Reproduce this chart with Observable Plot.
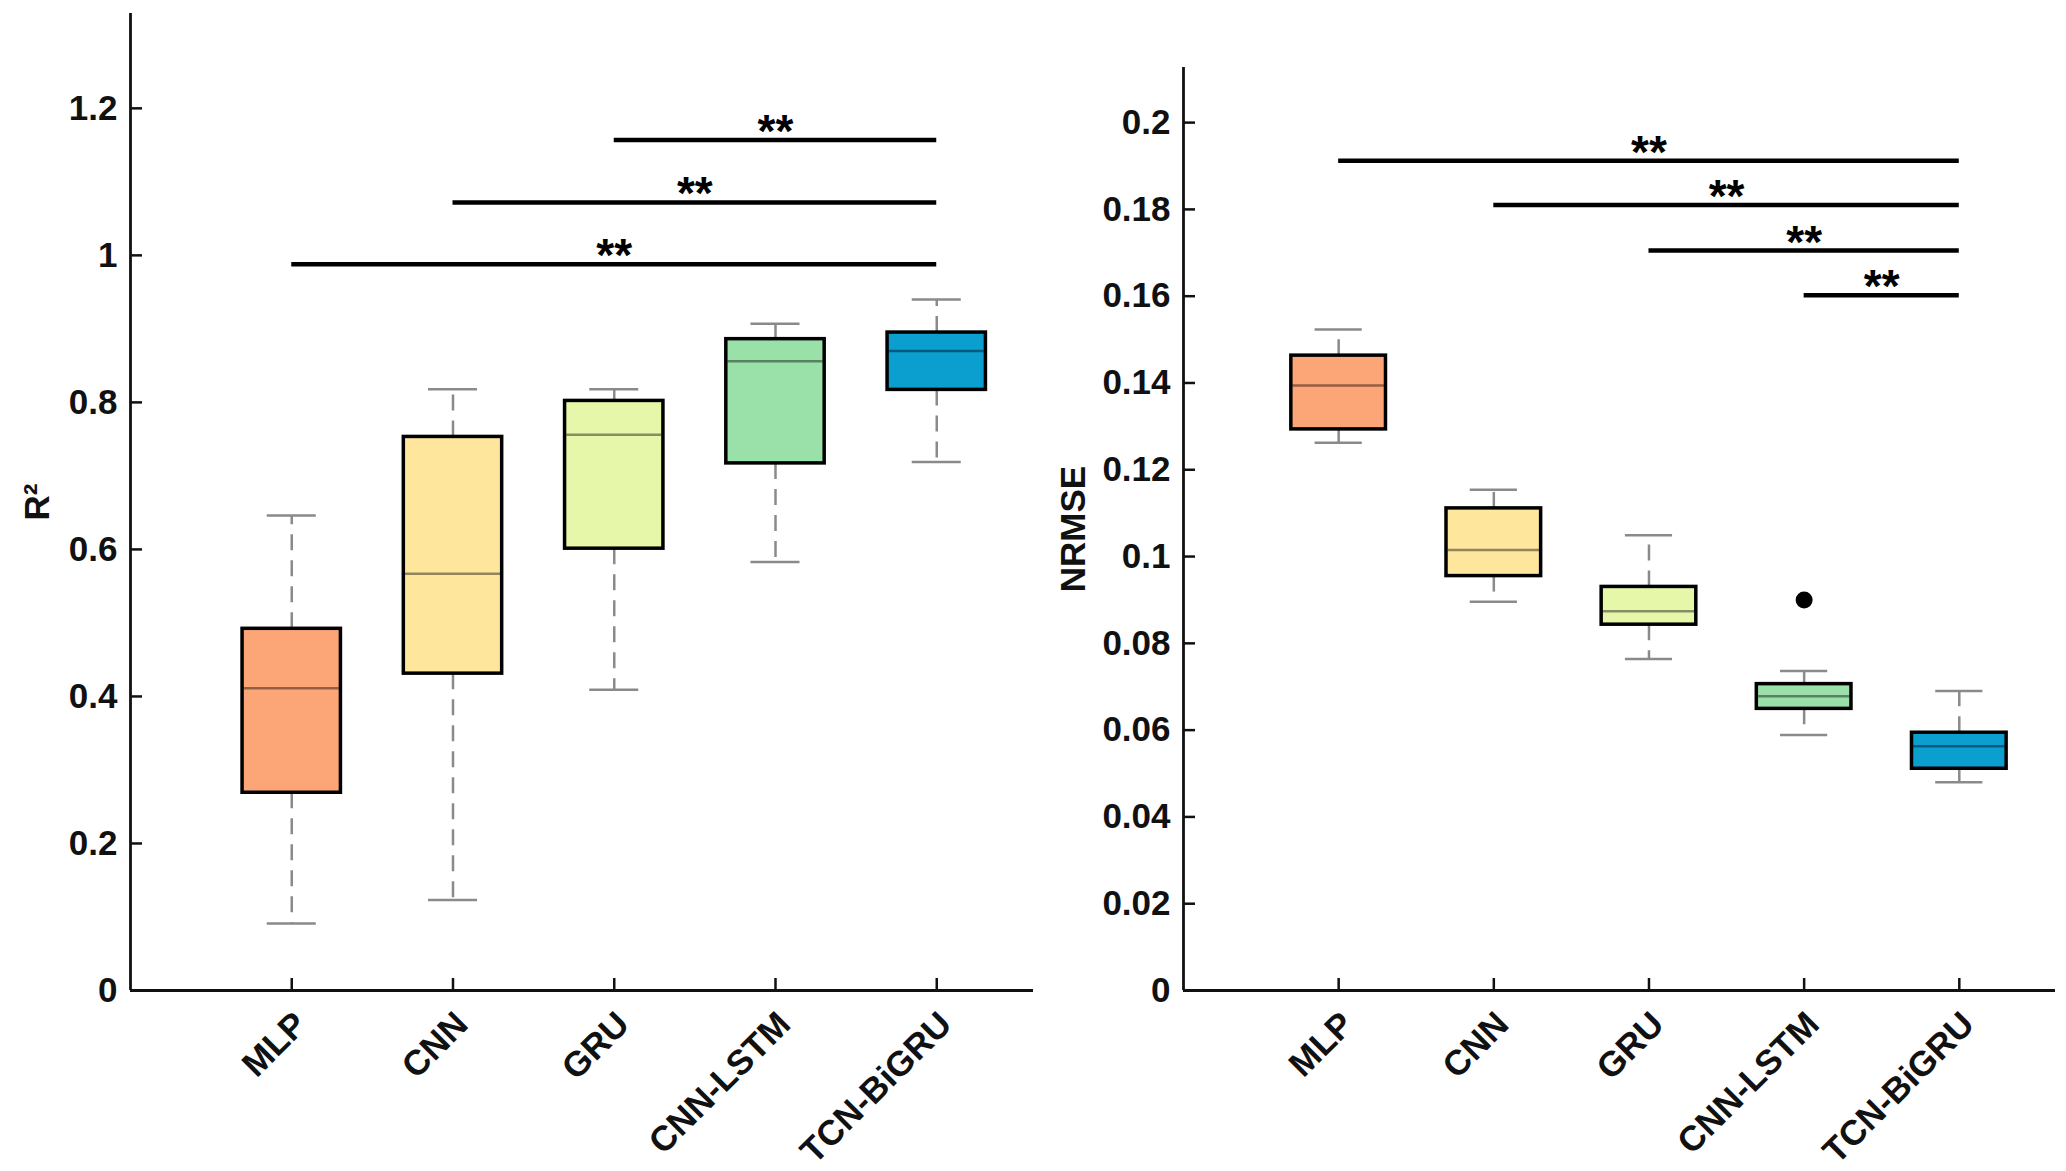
<!DOCTYPE html>
<html><head><meta charset="utf-8">
<script src="https://cdn.jsdelivr.net/npm/d3@7"></script>
<script src="https://cdn.jsdelivr.net/npm/@observablehq/plot@0.6"></script>
<style>
html,body{margin:0;padding:0;background:#fff;}
#wrap{position:relative;width:2066px;height:1171px;overflow:hidden;background:#fff;}
#left{position:absolute;left:0;top:0;}
#right{position:absolute;left:1040px;top:0;}
</style></head>
<body><div id="wrap"><div id="left"></div><div id="right"></div></div>
<script>
// ---- data ----
const categories = ["MLP", "CNN", "GRU", "CNN-LSTM", "TCN-BiGRU"];
const positions = [1, 2, 3, 4, 5];
const boxColors = ["#FCA577", "#FEE69D", "#E6F7A9", "#99E0A9", "#0B9FCF"];

// R² panel
const r2Lower  = [0.091, 0.123, 0.409, 0.583, 0.719];
const r2Q1     = [0.269, 0.431, 0.601, 0.717, 0.817];
const r2Median = [0.411, 0.567, 0.756, 0.856, 0.870];
const r2Q3     = [0.492, 0.753, 0.802, 0.886, 0.895];
const r2Upper  = [0.646, 0.818, 0.818, 0.907, 0.940];
const r2Ticks  = [0, 0.2, 0.4, 0.6, 0.8, 1, 1.2];
const r2SigFrom = [3, 2, 1];
const r2SigTo   = [5, 5, 5];
const r2SigY    = [1.157, 1.072, 0.988];
const r2SigText = ["**", "**", "**"];

// NRMSE panel
const nrLower  = [0.1262, 0.0896, 0.0764, 0.0589, 0.0480];
const nrQ1     = [0.1293, 0.0955, 0.0843, 0.0649, 0.0511];
const nrMedian = [0.1394, 0.1015, 0.0874, 0.0678, 0.0563];
const nrQ3     = [0.1463, 0.1111, 0.0930, 0.0706, 0.0594];
const nrUpper  = [0.1523, 0.1154, 0.1049, 0.0736, 0.0690];
const nrOutlierCat = ["CNN-LSTM"];
const nrOutlierVal = [0.090];
const nrTicks  = [0, 0.02, 0.04, 0.06, 0.08, 0.1, 0.12, 0.14, 0.16, 0.18, 0.2];
const nrSigFrom = [1, 2, 3, 4];
const nrSigTo   = [5, 5, 5, 5];
const nrSigY    = [0.1912, 0.1810, 0.1705, 0.1602];
const nrSigText = ["**", "**", "**", "**"];

// ---- drawing ----
const FONT = "'Liberation Sans', Arial, Helvetica, sans-serif";
const H = 1171;
const FS = 35;

function panel(cfg) {
  const rows = categories.map((name, i) => ({
    name, pos: positions[i],
    lower: cfg.lower[i], q1: cfg.q1[i], median: cfg.median[i], q3: cfg.q3[i], upper: cfg.upper[i]
  }));
  const outliers = cfg.outCat.map((c, i) => ({pos: positions[categories.indexOf(c)], value: cfg.outVal[i]}));
  const sig = cfg.sigFrom.map((f, i) => ({from: f, to: cfg.sigTo[i], y: cfg.sigY[i], label: cfg.sigText[i]}));
  const innerW = cfg.width - cfg.marginLeft - cfg.marginRight;
  const innerH = H - cfg.marginTop - cfg.marginBottom;
  const bh = 0.305, ch = 0.152;
  const whisk = {stroke: "#8a8a8a", strokeWidth: 2.5};
  return Plot.plot({
    width: cfg.width, height: H,
    marginLeft: cfg.marginLeft, marginRight: cfg.marginRight,
    marginTop: cfg.marginTop, marginBottom: cfg.marginBottom,
    x: {domain: [0, cfg.xMax]},
    y: {domain: cfg.yDomain},
    color: {domain: categories, range: boxColors},
    style: {fontFamily: FONT, fontWeight: "bold", color: "#111", background: "#fff", overflow: "visible"},
    marks: [
      // whiskers
      Plot.ruleX(rows, {x: "pos", y1: "q3", y2: "upper", ...whisk, strokeDasharray: "16,10"}),
      Plot.ruleX(rows, {x: "pos", y1: "q1", y2: "lower", ...whisk, strokeDasharray: "16,10"}),
      Plot.ruleY(rows, {y: "upper", x1: d => d.pos - ch, x2: d => d.pos + ch, ...whisk}),
      Plot.ruleY(rows, {y: "lower", x1: d => d.pos - ch, x2: d => d.pos + ch, ...whisk}),
      // boxes
      Plot.rect(rows, {x1: d => d.pos - bh, x2: d => d.pos + bh, y1: "q1", y2: "q3", fill: "name", stroke: "#000", strokeWidth: 3.5}),
      Plot.ruleY(rows, {y: "median", x1: d => d.pos - bh + 0.01, x2: d => d.pos + bh - 0.01, stroke: "#000", strokeOpacity: 0.42, strokeWidth: 2.5}),
      Plot.dot(outliers, {x: "pos", y: "value", r: 8.5, fill: "#000", stroke: null}),
      // significance bars
      Plot.ruleY(sig, {y: "y", x1: "from", x2: "to", stroke: "#000", strokeWidth: 4.5}),
      Plot.text(sig, {x: d => (d.from + d.to) / 2, y: "y", text: "label", fontSize: 46, lineAnchor: "bottom", dy: 7, fill: "#000"}),
      // axes lines
      Plot.ruleY([cfg.yDomain[0]], {stroke: "#111", strokeWidth: 2.8}),
      Plot.ruleX([0], {stroke: "#111", strokeWidth: 2.8}),
      // inward ticks
      Plot.tickY(cfg.yTicks, {y: d => d, insetRight: innerW - 12, stroke: "#111", strokeWidth: 2.5}),
      Plot.tickX(positions, {x: d => d, insetTop: innerH - 12, stroke: "#111", strokeWidth: 2.5}),
      // tick labels
      Plot.axisY(cfg.yTicks, {tickSize: 0, tickPadding: 13, fontSize: FS, tickFormat: d => String(d), label: null}),
      Plot.axisX(positions, {tickSize: 0, tickRotate: -45, tickPadding: 28, dx: 9, fontSize: FS, tickFormat: d => categories[d - 1], label: null}),
      // y title
      Plot.text([cfg.yLabel], {text: d => d, frameAnchor: "left", dx: cfg.labelDx, rotate: -90, fontSize: FS, textAnchor: "middle", lineAnchor: "middle", fill: "#111"})
    ]
  });
}

document.getElementById("left").append(panel({
  lower: r2Lower, q1: r2Q1, median: r2Median, q3: r2Q3, upper: r2Upper,
  outCat: [], outVal: [],
  sigFrom: r2SigFrom, sigTo: r2SigTo, sigY: r2SigY, sigText: r2SigText,
  yTicks: r2Ticks, yDomain: [0, 1.329], xMax: 5.6, yLabel: "R²",
  width: 1040, marginLeft: 130, marginRight: 7, marginTop: 13, marginBottom: 181, labelDx: -93
}));

document.getElementById("right").append(panel({
  lower: nrLower, q1: nrQ1, median: nrMedian, q3: nrQ3, upper: nrUpper,
  outCat: nrOutlierCat, outVal: nrOutlierVal,
  sigFrom: nrSigFrom, sigTo: nrSigTo, sigY: nrSigY, sigText: nrSigText,
  yTicks: nrTicks, yDomain: [0, 0.2127], xMax: 5.62, yLabel: "NRMSE",
  width: 1026, marginLeft: 143, marginRight: 11, marginTop: 67, marginBottom: 181, labelDx: -110
}));
</script>
</body></html>
